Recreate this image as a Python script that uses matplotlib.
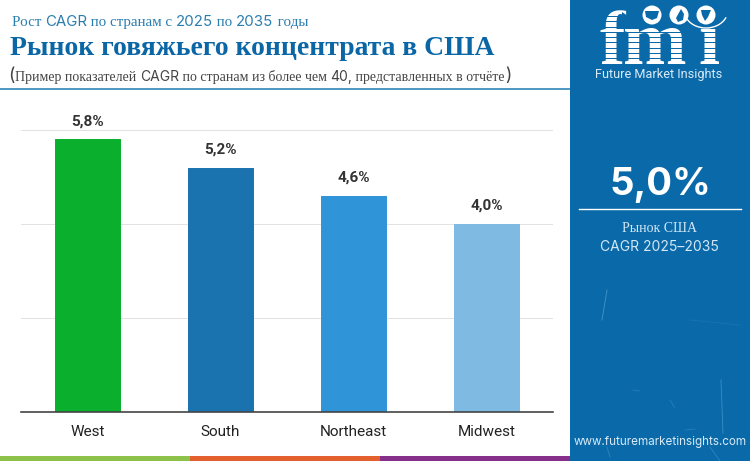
import matplotlib
matplotlib.use('Agg')
import matplotlib.pyplot as plt
from matplotlib.patches import Rectangle, Circle, Arc, Polygon

regions = ['West', 'South', 'Northeast', 'Midwest']
cagr = [5.8, 5.2, 4.6, 4.0]
cagr_labels = ['5,8%', '5,2%', '4,6%', '4,0%']
bar_colors = ['#0BAF2E', '#1A72AE', '#3094D8', '#7FBAE3']
y_ticks = [0, 2, 4, 6]

PANEL = '#0A69A8'
SERIF = 'Liberation Serif'
SANS = 'Inter'

fig = plt.figure(figsize=(7.5, 4.61), dpi=100, facecolor='white')

# холст в пикселях для оформления
bg = fig.add_axes([0, 0, 1, 1])
bg.set_xlim(0, 750)
bg.set_ylim(461, 0)
bg.axis('off')


def mixed_text(x, y, parts, size, color):
    # кириллица серифом, латиница и цифры гротеском
    renderer = fig.canvas.get_renderer()
    for s, fam in parts:
        t = bg.text(x, y, s.replace(' ', '\u00a0'), family=fam, fontsize=size, color=color, va='baseline', ha='left')
        x += t.get_window_extent(renderer).width


# правая панель
bg.add_patch(Rectangle((570, 0), 180, 461, color=PANEL, lw=0))
for x0, y0, x1, y1, a in [(607, 290, 602, 320, 0.6), (721, 380, 723, 433, 0.5), (607, 447, 610, 457, 0.4),
                          (710, 447, 720, 461, 0.4), (670, 400, 675, 408, 0.3), (690, 320, 740, 325, 0.15),
                          (633, 390, 640, 391, 0.3), (685, 430, 695, 429, 0.3)]:
    bg.plot([x0, x1], [y0, y1], color='#5FA8D8', lw=0.7, alpha=a)

# нижняя полоса
bg.add_patch(Rectangle((0, 456), 190, 5, color='#8CC24A', lw=0))
bg.add_patch(Rectangle((190, 456), 190, 5, color='#E5602F', lw=0))
bg.add_patch(Rectangle((380, 456), 190, 5, color='#862F8B', lw=0))

# шапка
mixed_text(12, 26, [('Рост ', SERIF), ('CAGR', SANS), (' по странам с ', SERIF), ('2025', SANS),
                    (' по ', SERIF), ('2035', SANS), (' годы', SERIF)], 10.8, '#2A7DB0')
bg.text(10, 55, 'Рынок говяжьего концентрата в США', family=SERIF, weight='bold', fontsize=19.9,
        color='#0B66A5', va='baseline')
mixed_text(8, 81, [('(', SANS)], 12.5, '#444444')
mixed_text(15, 81, [('Пример показателей ', SERIF), ('CAGR', SANS), (' по странам из более чем ', SERIF),
                    ('40,', SANS), (' представленных в отчёте', SERIF)], 10, '#444444')
mixed_text(505, 81, [(')', SANS)], 12.5, '#444444')
bg.plot([0, 570], [89.5, 89.5], color='#4E97C2', lw=1.4, solid_capstyle='butt')

# логотип fmi
for letter, lx in [('f', 599), ('m', 623), ('i', 698)]:
    bg.text(lx, 63.5, letter, family=SERIF, weight='bold', fontsize=55, color='white', ha='left', va='baseline',
            zorder=2)
yy = 16
while yy < 66:
    bg.add_patch(Rectangle((590, yy), 140, 1.0, color=PANEL, lw=0, zorder=2.5))
    yy += 5.3
bg.add_patch(Polygon([(622, 12), (634, 20), (622, 28)], color=PANEL, lw=0, zorder=2.5))
for cx in [652, 679, 706]:
    bg.add_patch(Circle((cx, 15), 13, color=PANEL, lw=0, zorder=3))
    bg.add_patch(Circle((cx, 15), 9.5, color='white', lw=0, zorder=4))
bg.add_patch(Polygon([(645, 11), (659, 11), (657, 18), (652, 20), (646, 17)], color=PANEL, lw=0, zorder=5))
bg.add_patch(Polygon([(676, 18), (681, 9), (684, 14), (683, 20), (678, 22)], color=PANEL, lw=0, zorder=5))
bg.add_patch(Polygon([(701, 10), (711, 10), (708, 17), (705, 21), (702, 15)], color=PANEL, lw=0, zorder=5))
bg.add_patch(Arc((706, 10), 44, 36, theta1=20, theta2=160, color='white', lw=1, zorder=5))
bg.text(659, 78, 'Future Market Insights', family='Roboto', fontsize=9.2, color='#D8EAF6', ha='center',
        va='baseline')

# значение справа
bg.text(660, 195, '5,0%', family=SANS, weight='bold', fontsize=27.5, color='white', ha='center', va='baseline')
bg.plot([579, 741], [208.5, 208.5], color='white', lw=1)
bg.text(660, 232, 'Рынок США', family=SERIF, fontsize=10, color='#D4E8F6', ha='center', va='baseline')
bg.text(659, 251, 'CAGR 2025–2035', family=SANS, fontsize=10, color='#D4E8F6', ha='center', va='baseline')
bg.text(660, 445, 'www.futuremarketinsights.com', family=SANS, fontsize=8.4, color='#D8EAF6', ha='center',
        va='baseline')

# график
ax = fig.add_axes([21 / 750, (461 - 412) / 461, 532 / 750, 282 / 461])
ax.patch.set_alpha(0)
ax.bar(range(len(regions)), cagr, width=0.482, color=bar_colors, edgecolor=bar_colors, linewidth=0.7,
       zorder=3, joinstyle='round')
ax.set_xlim(-0.5, 3.5)
ax.set_ylim(0, 6)
ax.set_yticks(y_ticks)
ax.tick_params(axis='y', left=False, labelleft=False)
ax.tick_params(axis='x', bottom=False, pad=6)
ax.set_xticks(range(len(regions)))
ax.set_xticklabels(regions, family='Roboto', fontsize=11, color='#222222')
ax.grid(axis='y', color='#E2E2E2', lw=0.7, zorder=0)
ax.grid(axis='x', visible=False)
for side in ['top', 'left', 'right']:
    ax.spines[side].set_visible(False)
ax.spines['bottom'].set_color('#444444')
ax.spines['bottom'].set_linewidth(1.2)
ax.spines['bottom'].set_zorder(4)
for i, v in enumerate(cagr):
    ax.annotate(cagr_labels[i], (i, v), xytext=(0, 8), textcoords='offset points', ha='center', va='bottom',
                family='Roboto', weight='bold', fontsize=11, color='#333333', annotation_clip=False, zorder=5,
                bbox=dict(facecolor='white', edgecolor='none', pad=1.0))

fig.savefig('out.png', dpi=100)
